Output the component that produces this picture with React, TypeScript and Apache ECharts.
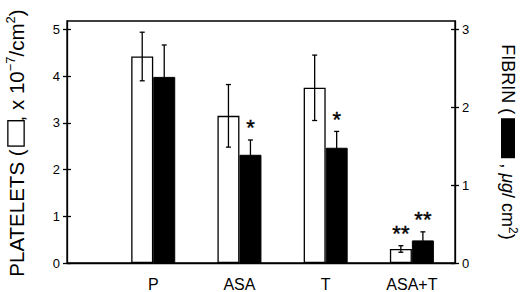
import React, { useEffect, useRef } from "react";
import * as echarts from "echarts";

const categories = ["P", "ASA", "T", "ASA+T"];
const plateletMeans = [4.42, 3.15, 3.75, 0.3];
const plateletErr = [0.52, 0.67, 0.7, 0.07];
const fibrinMeans = [2.39, 1.39, 1.48, 0.29];
const fibrinErr = [0.41, 0.19, 0.21, 0.11];
const plateletStars = ["", "", "", "**"];
const fibrinStars = ["", "*", "*", "**"];
const leftTicks = [0, 1, 2, 3, 4, 5];
const rightTicks = [0, 1, 2, 3];

const FONT = '"Liberation Sans", Arial, Helvetica, sans-serif';
const LEFT_MAX = 5.18;
const RIGHT_MAX = (LEFT_MAX * 3) / 5;
const BAR_W = 22;

function errSeries(yAxisIndex: number, means: number[], errs: number[], stars: string[], dx: number) {
  return {
    type: "custom",
    xAxisIndex: 0,
    yAxisIndex,
    z: 5,
    data: means.map((m, i) => [i + 1, m - errs[i], m + errs[i], i]),
    renderItem: (params: any, api: any) => {
      const x = api.value(0);
      const lo = api.coord([x, api.value(1)]);
      const hi = api.coord([x, api.value(2)]);
      const cx = lo[0] + dx;
      const idx = api.value(3);
      const st = { stroke: "#000", lineWidth: 1.3 };
      const children: any[] = [
        { type: "line", shape: { x1: cx, y1: lo[1], x2: cx, y2: hi[1] }, style: st },
        { type: "line", shape: { x1: cx - 2.5, y1: lo[1], x2: cx + 2.5, y2: lo[1] }, style: st },
        { type: "line", shape: { x1: cx - 2.5, y1: hi[1], x2: cx + 2.5, y2: hi[1] }, style: st },
      ];
      const s = stars[idx];
      if (s) {
        children.push({
          type: "text",
          x: cx,
          y: hi[1] - 12,
          style: {
            text: s,
            fill: "#000",
            font: `22px ${FONT}`,
            align: "center",
            verticalAlign: "middle",
            stroke: "#000",
            lineWidth: 0.4,
          },
        });
      }
      return { type: "group", children };
    },
  };
}

export default function App() {
  const ref = useRef<HTMLDivElement>(null);
  useEffect(() => {
    if (!ref.current) return;
    const chart = echarts.init(ref.current, undefined, { renderer: "svg" });
    const axisLine = { show: true, lineStyle: { color: "#000", width: 1.3 } };
    const labelStyle = { color: "#000", fontSize: 13, fontFamily: FONT };
    chart.setOption({
      animation: false,
      backgroundColor: "#fff",
      grid: {
        left: 67,
        right: 65,
        top: 21,
        bottom: 29,
        show: true,
        borderColor: "#000",
        borderWidth: 1.3,
        backgroundColor: "transparent",
      },
      xAxis: {
        type: "value",
        min: 0,
        max: 4.5,
        axisLine,
        axisTick: { show: false },
        splitLine: { show: false },
        axisLabel: {
          customValues: categories.map((_, i) => i + 1),
          formatter: (v: number) => categories[Math.round(v) - 1] ?? "",
          color: "#000",
          fontSize: 16,
          fontFamily: FONT,
          margin: 13,
        },
      },
      yAxis: [
        {
          type: "value",
          position: "left",
          min: 0,
          max: LEFT_MAX,
          axisLine,
          splitLine: { show: false },
          axisTick: { show: true, inside: false, length: 4, customValues: leftTicks, lineStyle: { color: "#000", width: 1.3 } },
          axisLabel: { ...labelStyle, margin: 7, customValues: leftTicks },
        },
        {
          type: "value",
          position: "right",
          min: 0,
          max: RIGHT_MAX,
          axisLine,
          splitLine: { show: false },
          axisTick: { show: true, inside: false, length: 4, customValues: rightTicks, lineStyle: { color: "#000", width: 1.3 } },
          axisLabel: { ...labelStyle, margin: 7, customValues: rightTicks },
        },
        {
          type: "value",
          position: "left",
          min: 0,
          max: LEFT_MAX,
          axisLine: { show: false },
          splitLine: { show: false },
          axisTick: { show: true, inside: true, length: 4, customValues: leftTicks, lineStyle: { color: "#000", width: 1.3 } },
          axisLabel: { show: false },
        },
        {
          type: "value",
          position: "right",
          min: 0,
          max: RIGHT_MAX,
          axisLine: { show: false },
          splitLine: { show: false },
          axisTick: { show: true, inside: true, length: 4, customValues: rightTicks, lineStyle: { color: "#000", width: 1.3 } },
          axisLabel: { show: false },
        },
      ],
      series: [
        {
          type: "bar",
          name: "Platelets",
          yAxisIndex: 0,
          barWidth: BAR_W,
          barGap: "0%",
          data: plateletMeans.map((v, i) => [i + 1, v]),
          itemStyle: { color: "#fff", borderColor: "#000", borderWidth: 1.3 },
        },
        {
          type: "bar",
          name: "Fibrin",
          yAxisIndex: 1,
          barWidth: BAR_W,
          barGap: "0%",
          data: fibrinMeans.map((v, i) => [i + 1, v]),
          itemStyle: { color: "#000", borderColor: "#000", borderWidth: 1 },
        },
        errSeries(0, plateletMeans, plateletErr, plateletStars, -BAR_W / 2),
        errSeries(1, fibrinMeans, fibrinErr, fibrinStars, BAR_W / 2),
      ],
      graphic: [
        {
          type: "text",
          x: 16,
          y: 143,
          rotation: Math.PI / 2,
          style: {
            text: "{t|PLATELETS (}{sp|}{wbox|}{t|, x 10}{sup|−7}{t|/cm}{sup|2}{t|)}",
            align: "center",
            verticalAlign: "middle",
            rich: {
              t: { fontSize: 20.5, fontFamily: FONT, fill: "#000", lineHeight: 24 },
              sup: { fontSize: 13, fontFamily: FONT, fill: "#000", verticalAlign: "top", lineHeight: 15 },
              sp: { width: 4, height: 4 },
              wbox: { width: 24, height: 15, backgroundColor: "#fff", borderColor: "#000", borderWidth: 1.3 },
            },
          },
        },
        {
          type: "text",
          x: 508,
          y: 142,
          rotation: -Math.PI / 2,
          style: {
            text: "{t|FIBRIN (}{sp|}{bbox|}{t| , }{it|μg}{t|/ cm}{sup|2}{t|)}",
            align: "center",
            verticalAlign: "middle",
            rich: {
              t: { fontSize: 18, fontFamily: FONT, fill: "#000", lineHeight: 22 },
              it: { fontSize: 18, fontFamily: FONT, fontStyle: "italic", fill: "#000", lineHeight: 22 },
              sup: { fontSize: 12, fontFamily: FONT, fill: "#000", verticalAlign: "top", lineHeight: 14 },
              sp: { width: 4, height: 4 },
              bbox: { width: 40, height: 14, backgroundColor: "#000" },
            },
          },
        },
      ],
    });
    return () => chart.dispose();
  }, []);
  return <div ref={ref} style={{ width: 520, height: 292, position: "absolute", left: 0, top: 0 }} />;
}
